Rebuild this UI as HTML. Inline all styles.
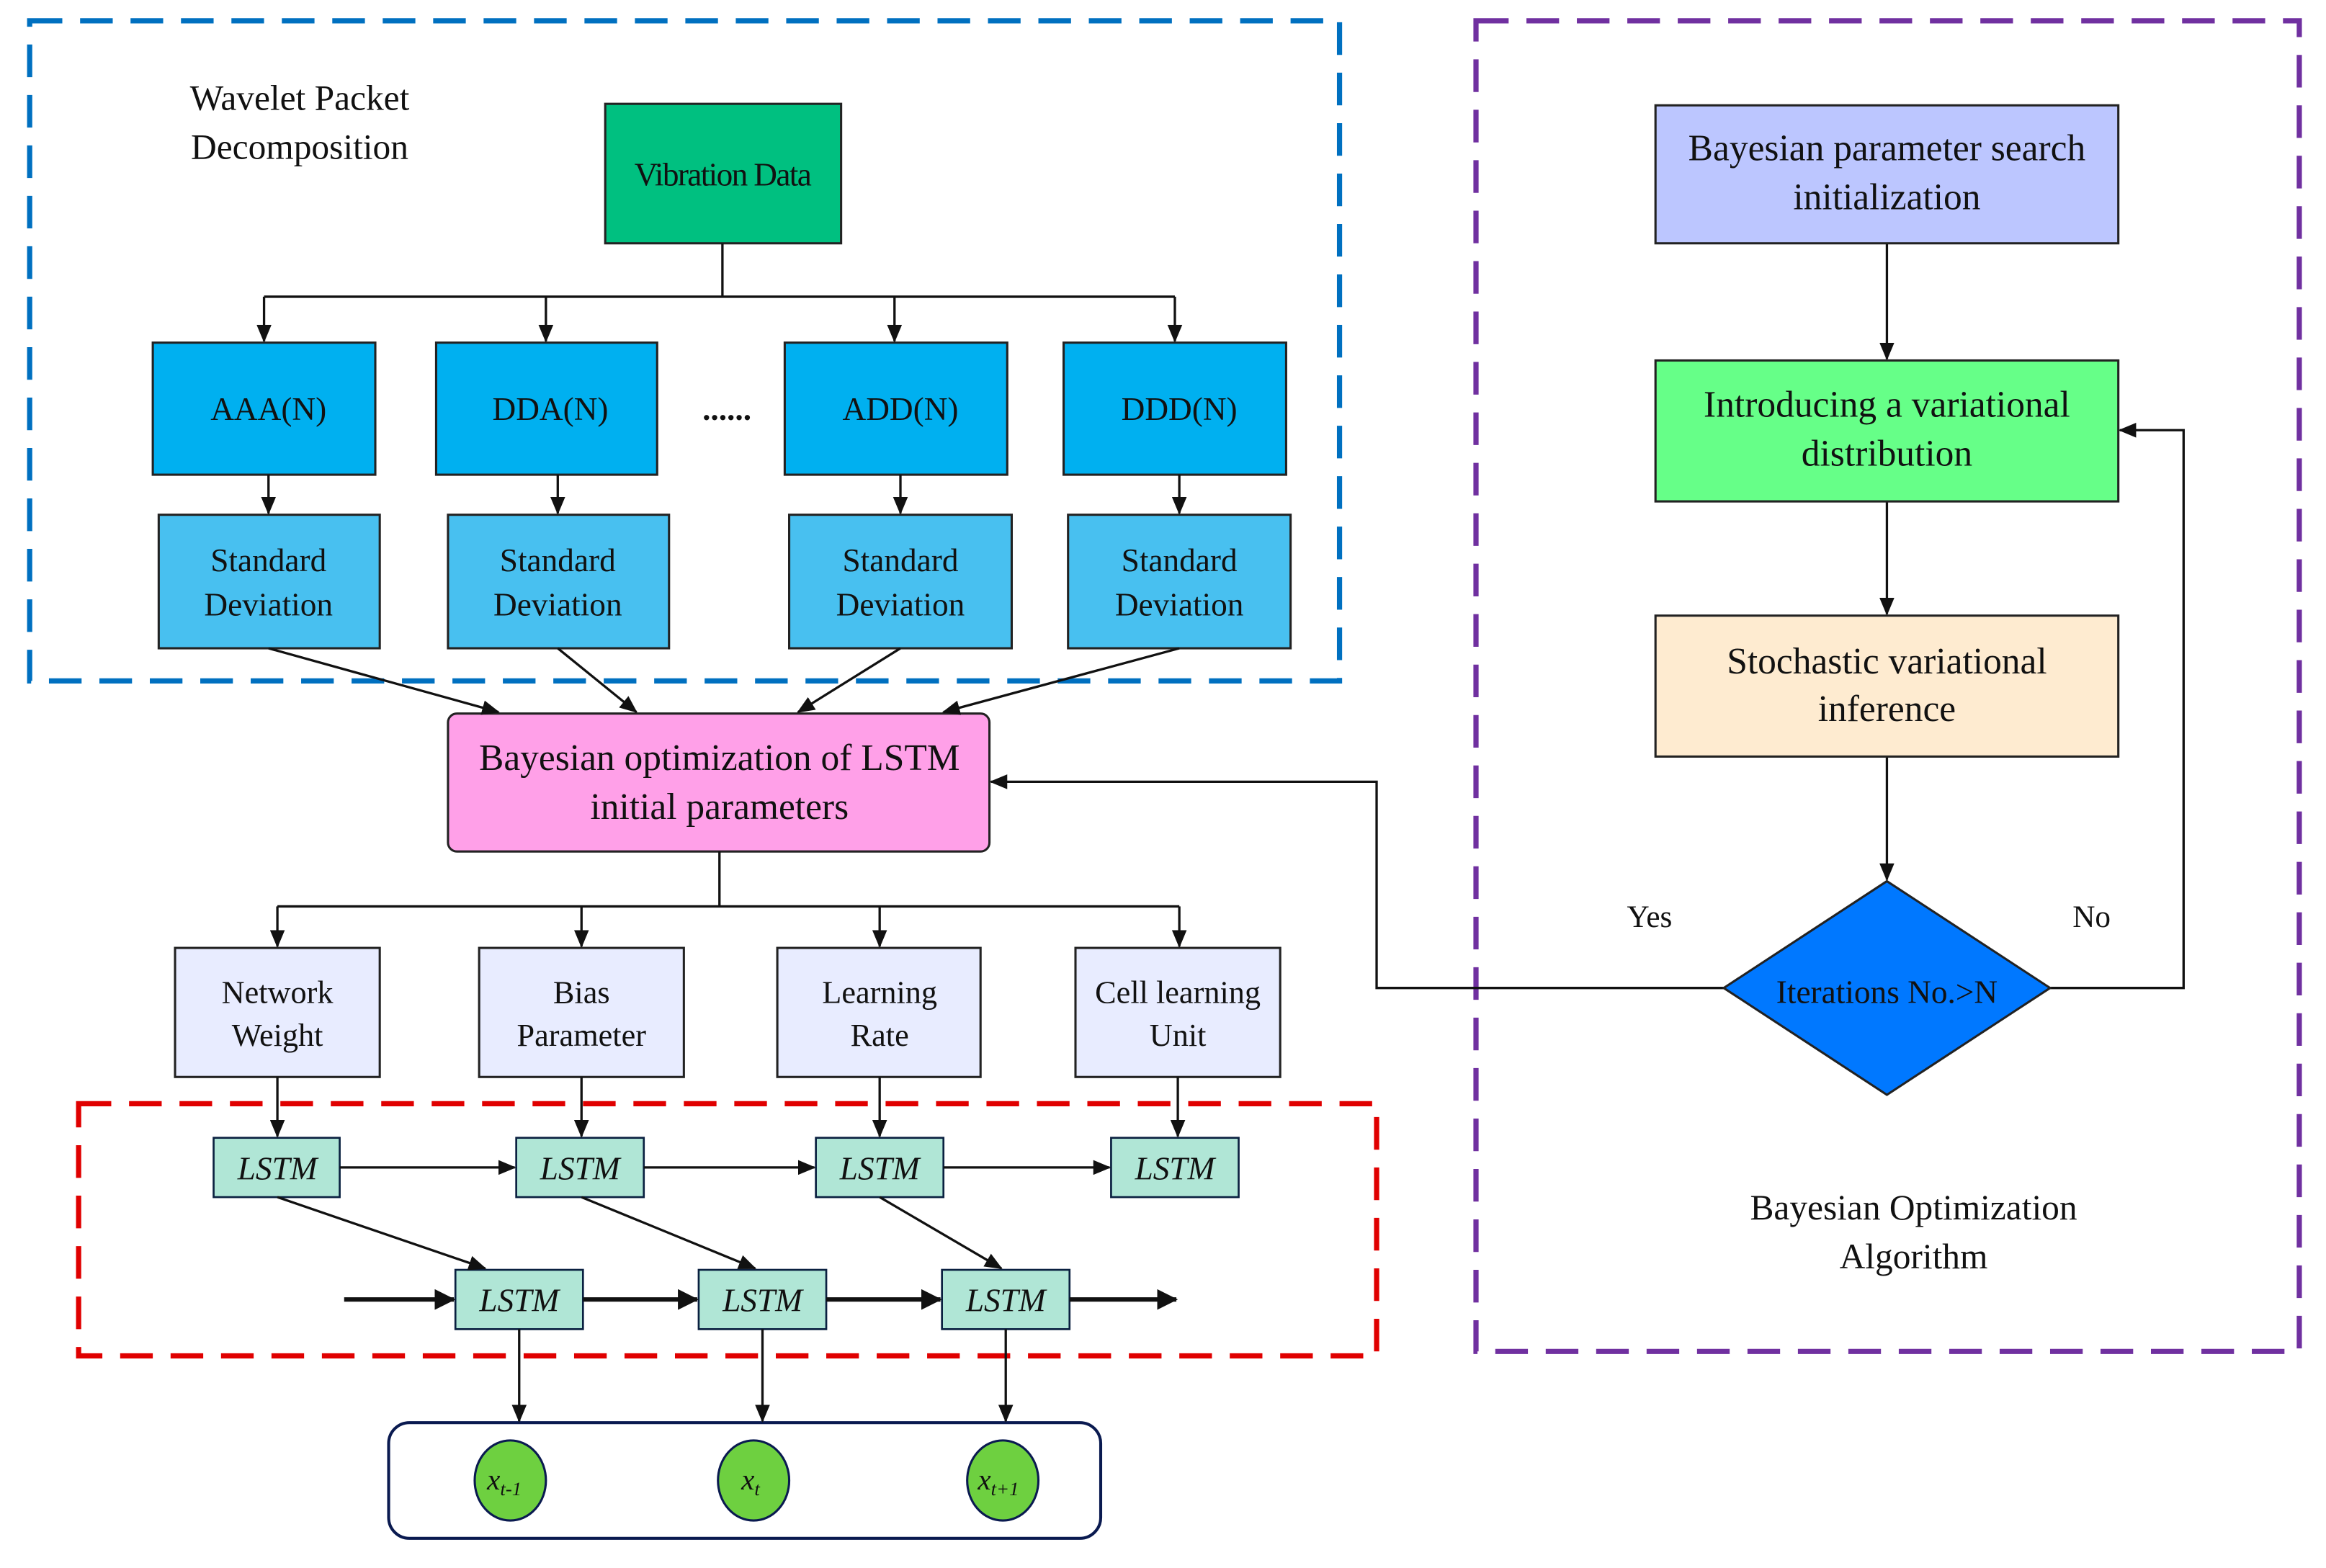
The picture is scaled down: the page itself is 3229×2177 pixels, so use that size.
<!DOCTYPE html>
<html><head><meta charset="utf-8"><style>html,body{margin:0;padding:0;background:#fff;}svg{display:block;}svg text{font-family:"Liberation Serif","Times New Roman",serif;}</style></head>
<body>
<svg width="3229" height="2177" viewBox="0 0 1568 1057" preserveAspectRatio="none" xmlns="http://www.w3.org/2000/svg">
<defs>
<marker id="a" markerWidth="12" markerHeight="10" refX="11" refY="5" orient="auto" markerUnits="userSpaceOnUse"><path d="M0,0 L12,5 L0,10 Z" fill="#111"/></marker>
<marker id="b" markerWidth="14" markerHeight="14" refX="13" refY="7" orient="auto" markerUnits="userSpaceOnUse"><path d="M0,0 L14,7 L0,14 Z" fill="#111"/></marker>
</defs>
<rect width="1568" height="1057" fill="#fff"/>
<rect x="20" y="14" width="883" height="445" fill="none" stroke="#0070c0" stroke-width="3.5" stroke-dasharray="22,12"/>
<rect x="995" y="14" width="555" height="897" fill="none" stroke="#7030a0" stroke-width="3.5" stroke-dasharray="22,12"/>
<rect x="53" y="744" width="875" height="170" fill="none" stroke="#e00000" stroke-width="3.5" stroke-dasharray="22,12"/>

<g font-size="24" text-anchor="middle" fill="#111">
<text x="202" y="74">Wavelet Packet</text>
<text x="202" y="107">Decomposition</text>
</g>

<g stroke="#222" stroke-width="1.5">
<rect x="408" y="70" width="159" height="94" fill="#00c080"/>
<rect x="103" y="231" width="150" height="89" fill="#00b0f0"/>
<rect x="294" y="231" width="149" height="89" fill="#00b0f0"/>
<rect x="529" y="231" width="150" height="89" fill="#00b0f0"/>
<rect x="717" y="231" width="150" height="89" fill="#00b0f0"/>
<rect x="107" y="347" width="149" height="90" fill="#48c0f0"/>
<rect x="302" y="347" width="149" height="90" fill="#48c0f0"/>
<rect x="532" y="347" width="150" height="90" fill="#48c0f0"/>
<rect x="720" y="347" width="150" height="90" fill="#48c0f0"/>
<rect x="302" y="481" width="365" height="93" rx="6" fill="#ffa0e8"/>
<rect x="118" y="639" width="138" height="87" fill="#e8ecff"/>
<rect x="323" y="639" width="138" height="87" fill="#e8ecff"/>
<rect x="524" y="639" width="137" height="87" fill="#e8ecff"/>
<rect x="725" y="639" width="138" height="87" fill="#e8ecff"/>
</g>
<g stroke="#0a2040" stroke-width="1.3" fill="#b0e6d6">
<rect x="144" y="767" width="85" height="40"/>
<rect x="348" y="767" width="86" height="40"/>
<rect x="550" y="767" width="86" height="40"/>
<rect x="749" y="767" width="86" height="40"/>
<rect x="307" y="856" width="86" height="40"/>
<rect x="471" y="856" width="86" height="40"/>
<rect x="635" y="856" width="86" height="40"/>
</g>
<rect x="262" y="959" width="480" height="78" rx="14" fill="none" stroke="#0a1a50" stroke-width="2"/>
<g fill="#6ed040" stroke="#0a1a50" stroke-width="1.5">
<ellipse cx="344" cy="998" rx="24" ry="27"/>
<ellipse cx="508" cy="998" rx="24" ry="27"/>
<ellipse cx="676" cy="998" rx="24" ry="27"/>
</g>

<g stroke="#111" stroke-width="1.6" fill="none">
<path d="M487,164 V200 M178,200 H792"/>
<path d="M178,200 V230" marker-end="url(#a)"/>
<path d="M368,200 V230" marker-end="url(#a)"/>
<path d="M603,200 V230" marker-end="url(#a)"/>
<path d="M792,200 V230" marker-end="url(#a)"/>
<path d="M181,320 V346" marker-end="url(#a)"/>
<path d="M376,320 V346" marker-end="url(#a)"/>
<path d="M607,320 V346" marker-end="url(#a)"/>
<path d="M795,320 V346" marker-end="url(#a)"/>
<path d="M181,437 L336,480" marker-end="url(#a)"/>
<path d="M376,437 L429,480" marker-end="url(#a)"/>
<path d="M607,437 L538,480" marker-end="url(#a)"/>
<path d="M795,437 L636,480" marker-end="url(#a)"/>
<path d="M485,574 V611 M187,611 H795"/>
<path d="M187,611 V638" marker-end="url(#a)"/>
<path d="M392,611 V638" marker-end="url(#a)"/>
<path d="M593,611 V638" marker-end="url(#a)"/>
<path d="M795,611 V638" marker-end="url(#a)"/>
<path d="M187,726 V766" marker-end="url(#a)"/>
<path d="M392,726 V766" marker-end="url(#a)"/>
<path d="M593,726 V766" marker-end="url(#a)"/>
<path d="M794,726 V766" marker-end="url(#a)"/>
<path d="M229,787 H347" marker-end="url(#a)"/>
<path d="M434,787 H549" marker-end="url(#a)"/>
<path d="M636,787 H748" marker-end="url(#a)"/>
<path d="M187,807 L327,855" marker-end="url(#a)"/>
<path d="M392,807 L509,855" marker-end="url(#a)"/>
<path d="M593,807 L675,855" marker-end="url(#a)"/>
<path d="M350,896 V958" marker-end="url(#a)"/>
<path d="M514,896 V958" marker-end="url(#a)"/>
<path d="M678,896 V958" marker-end="url(#a)"/>
<path d="M1272,164 V242" marker-end="url(#a)"/>
<path d="M1272,338 V414" marker-end="url(#a)"/>
<path d="M1272,510 V593" marker-end="url(#a)"/>
<path d="M1382,666 H1472 V290 H1429" marker-end="url(#a)"/>
<path d="M1162,666 H928 V527 H668" marker-end="url(#a)"/>
</g>
<g stroke="#111" stroke-width="3" fill="none">
<path d="M232,876 H306" marker-end="url(#b)"/>
<path d="M393,876 H470" marker-end="url(#b)"/>
<path d="M557,876 H634" marker-end="url(#b)"/>
<path d="M721,876 H793" marker-end="url(#b)"/>
</g>

<g stroke="#222" stroke-width="1.5">
<rect x="1116" y="71" width="312" height="93" fill="#bcc6ff"/>
<rect x="1116" y="243" width="312" height="95" fill="#66ff88"/>
<rect x="1116" y="415" width="312" height="95" fill="#feebd0"/>
<path d="M1272,594 L1382,666 L1272,738 L1162,666 Z" fill="#0078ff"/>
</g>

<g fill="#111" text-anchor="middle">
<text x="487" y="125" font-size="22" letter-spacing="-0.8">Vibration Data</text>
<text x="181" y="283" font-size="22">AAA(N)</text>
<text x="371" y="283" font-size="22">DDA(N)</text>
<text x="490" y="283" font-size="22" font-weight="bold">......</text>
<text x="607" y="283" font-size="22">ADD(N)</text>
<text x="795" y="283" font-size="22">DDD(N)</text>
<g font-size="22">
<text x="181" y="385">Standard</text><text x="181" y="415">Deviation</text>
<text x="376" y="385">Standard</text><text x="376" y="415">Deviation</text>
<text x="607" y="385">Standard</text><text x="607" y="415">Deviation</text>
<text x="795" y="385">Standard</text><text x="795" y="415">Deviation</text>
</g>
<text x="485" y="519" font-size="25">Bayesian optimization of LSTM</text>
<text x="485" y="552" font-size="25">initial parameters</text>
<g font-size="21.5">
<text x="187" y="676">Network</text><text x="187" y="705">Weight</text>
<text x="392" y="676">Bias</text><text x="392" y="705">Parameter</text>
<text x="593" y="676">Learning</text><text x="593" y="705">Rate</text>
<text x="794" y="676">Cell learning</text><text x="794" y="705">Unit</text>
</g>
<g font-size="22" font-style="italic">
<text x="187" y="795">LSTM</text><text x="391" y="795">LSTM</text><text x="593" y="795">LSTM</text><text x="792" y="795">LSTM</text>
<text x="350" y="884">LSTM</text><text x="514" y="884">LSTM</text><text x="678" y="884">LSTM</text>
</g>
<g font-style="italic" font-size="20">
<text x="340" y="1004">x<tspan font-size="13" dy="4">t-1</tspan></text>
<text x="506" y="1004">x<tspan font-size="13" dy="4">t</tspan></text>
<text x="673" y="1004">x<tspan font-size="13" dy="4">t+1</tspan></text>
</g>
<g font-size="25">
<text x="1272" y="108">Bayesian parameter search</text>
<text x="1272" y="141">initialization</text>
<text x="1272" y="281">Introducing a variational</text>
<text x="1272" y="314">distribution</text>
<text x="1272" y="454">Stochastic variational</text>
<text x="1272" y="486">inference</text>
</g>
<text x="1272" y="676" font-size="22">Iterations No.&gt;N</text>
<text x="1112" y="625" font-size="21">Yes</text>
<text x="1410" y="625" font-size="21">No</text>
<text x="1290" y="822" font-size="24">Bayesian Optimization</text>
<text x="1290" y="855" font-size="24">Algorithm</text>
</g>
</svg>
</body></html>
